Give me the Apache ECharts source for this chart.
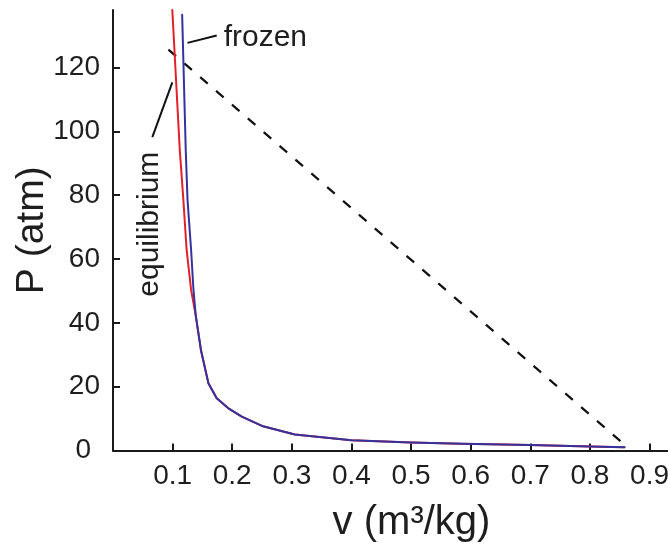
<!DOCTYPE html>
<html><head><meta charset="utf-8">
<script src="https://cdn.jsdelivr.net/npm/echarts@6/dist/echarts.min.js"></script>
<style>html,body{margin:0;padding:0;background:#fff}#c{width:668px;height:546px}</style>
</head><body><div id="c"></div>
<script>
// ---- data ----
const vEquilibrium = [0.0995, 0.112, 0.118, 0.1235, 0.131, 0.139, 0.1475, 0.160, 0.174, 0.193, 0.216, 0.25, 0.305, 0.40, 0.50, 0.585, 0.70, 0.80, 0.858];
const pEquilibrium = [138, 94.2, 78.6, 62.9, 50.3, 42, 31.5, 21.1, 16.4, 13.3, 10.6, 7.7, 5.0, 3.2, 2.5, 2.1, 1.75, 1.22, 1.03];
const vFrozen = [0.116, 0.122, 0.125, 0.131, 0.135, 0.139, 0.1475, 0.160, 0.174, 0.193, 0.216, 0.25, 0.305, 0.40, 0.50, 0.585, 0.70, 0.80, 0.858];
const pFrozen = [136.5, 94.2, 78.6, 62.9, 50.3, 42, 31.5, 21.1, 16.4, 13.3, 10.6, 7.7, 5.0, 3.2, 2.5, 2.1, 1.75, 1.22, 1.03];
const vDashed = [0.093, 0.862];
const pDashed = [125.6, 1.2];
const xTicks = [0.1, 0.2, 0.3, 0.4, 0.5, 0.6, 0.7, 0.8, 0.9];
const yTicks = [0, 20, 40, 60, 80, 100, 120];
// annotation anchors (data coordinates)
const frozenLabelAt = [0.1856, 129.3];
const frozenPointer = [[0.125, 127.7], [0.174, 130.0]];
const equilibriumLabelAt = [0.0614, 70.9];
const equilibriumPointer = [[0.0995, 115.3], [0.066, 98.2]];

const FONT = '"Liberation Sans", Arial, Helvetica, sans-serif';
const TXT = '#1e1e1e';
const pairs = (xs, ys) => xs.map((x, i) => [x, ys[i]]);

const chart = echarts.init(document.getElementById('c'), null, {renderer: 'canvas'});
chart.setOption({
  animation: false,
  backgroundColor: '#fff',
  grid: {left: 113, right: 0, top: 10, bottom: 95.5, containLabel: false, outerBoundsMode: 'none'},
  xAxis: {
    type: 'value', min: 0, max: 0.931,
    axisLine: {show: true, onZero: false, lineStyle: {color: '#1a1a1a', width: 2}},
    axisTick: {show: true, inside: true, length: 7, customValues: xTicks, lineStyle: {color: '#1a1a1a', width: 2}},
    axisLabel: {customValues: xTicks, margin: 12, fontSize: 28, fontFamily: FONT, color: TXT,
      formatter: v => v.toFixed(1)},
    splitLine: {show: false},
    name: 'v (m³/kg)', nameLocation: 'middle', nameGap: 52, nameMoveOverlap: false,
    nameTextStyle: {fontSize: 40, fontFamily: FONT, color: TXT, padding: [0, 0, 0, 42]}
  },
  yAxis: {
    type: 'value', min: 0, max: 138,
    axisLine: {show: true, onZero: false, lineStyle: {color: '#1a1a1a', width: 2}},
    axisTick: {show: true, inside: true, length: 7, customValues: yTicks, lineStyle: {color: '#1a1a1a', width: 2}},
    axisLabel: {customValues: yTicks, margin: 13, fontSize: 28, fontFamily: FONT, color: TXT,
      formatter: v => v === 0 ? '{z|0}' : String(v),
      rich: {z: {fontSize: 28, fontFamily: FONT, color: TXT, padding: [0, 9, 0, 0]}}},
    splitLine: {show: false},
    name: 'P (atm)', nameLocation: 'middle', nameGap: 61, nameMoveOverlap: false,
    nameTextStyle: {fontSize: 39, fontFamily: FONT, color: TXT}
  },
  series: [
    {name: 'equilibrium', type: 'line', data: pairs(vEquilibrium, pEquilibrium), showSymbol: false,
      lineStyle: {color: '#e3202a', width: 2, join: 'round', cap: 'round'}, z: 2},
    {name: 'frozen', type: 'line', data: pairs(vFrozen, pFrozen), showSymbol: false,
      lineStyle: {color: '#34329c', width: 2, join: 'round', cap: 'round'}, z: 3},
    {name: 'dashed', type: 'line', data: pairs(vDashed, pDashed), showSymbol: false,
      lineStyle: {color: '#111', width: 2.2, type: [10, 11]}, z: 1}
  ]
});

const px = p => chart.convertToPixel({gridIndex: 0}, p);
const f0 = px(frozenPointer[0]), f1 = px(frozenPointer[1]);
const e0 = px(equilibriumPointer[0]), e1 = px(equilibriumPointer[1]);
const fl = px(frozenLabelAt), el = px(equilibriumLabelAt);
chart.setOption({
  graphic: [
    {type: 'line', shape: {x1: f0[0], y1: f0[1], x2: f1[0], y2: f1[1]}, style: {stroke: '#111', lineWidth: 2}},
    {type: 'line', shape: {x1: e0[0], y1: e0[1], x2: e1[0], y2: e1[1]}, style: {stroke: '#111', lineWidth: 2}},
    {type: 'text', x: fl[0], y: fl[1], style: {text: 'frozen', fontSize: 30, fontFamily: FONT, fill: TXT, align: 'left', verticalAlign: 'middle'}},
    {type: 'text', x: el[0], y: el[1], rotation: Math.PI / 2, style: {text: 'equilibrium', fontSize: 30, fontFamily: FONT, fill: TXT, align: 'center', verticalAlign: 'middle'}}
  ]
});
</script>
</body></html>
